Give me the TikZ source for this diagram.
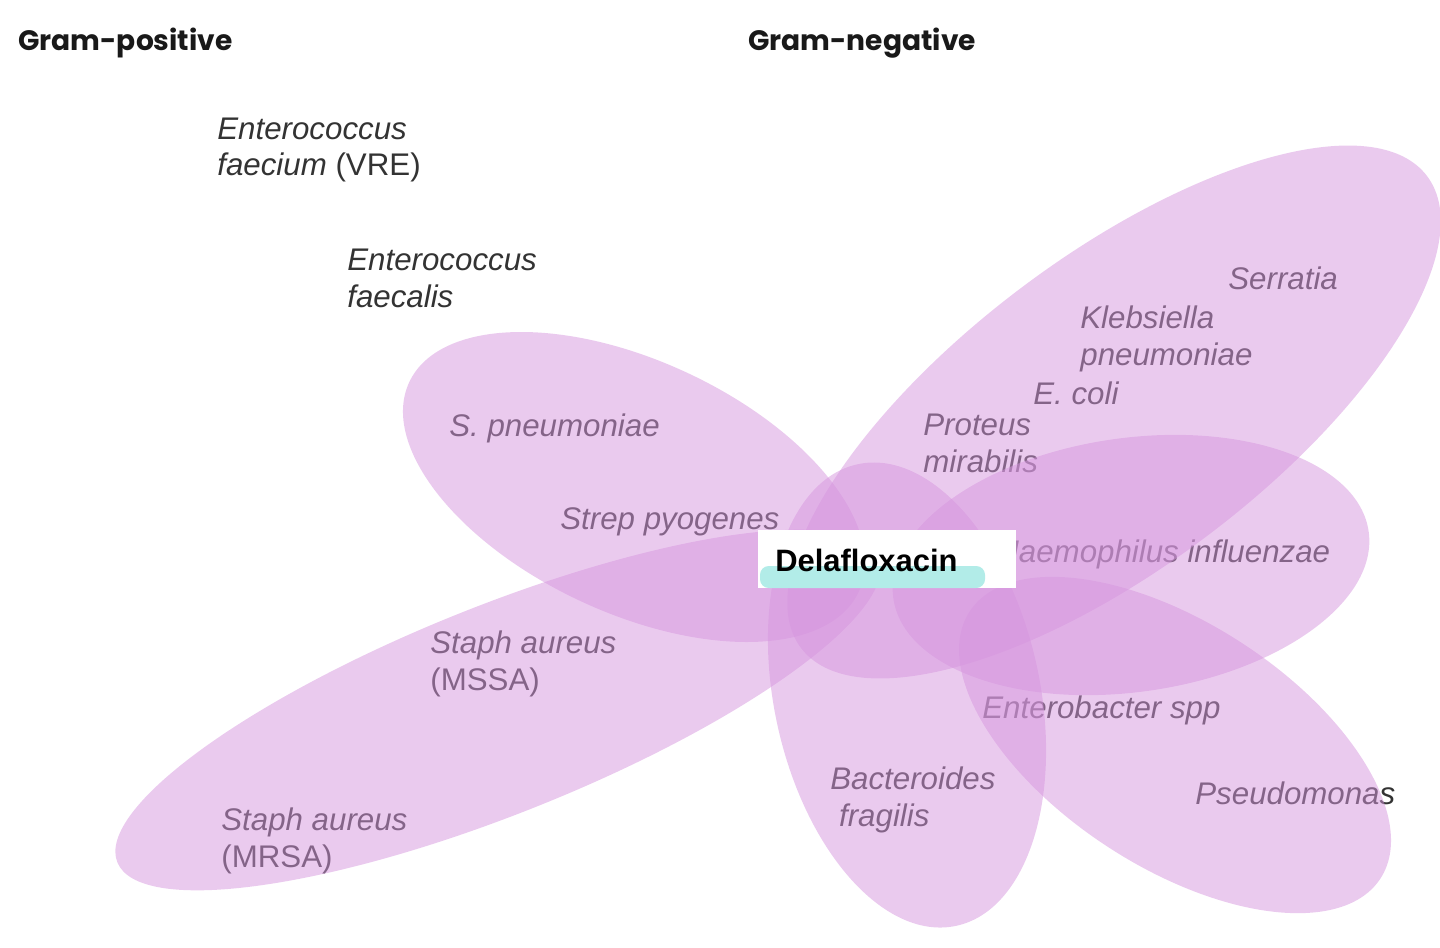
\documentclass[tikz,border=0pt]{standalone}
\usepackage{fontspec}
\setmainfont{Liberation Sans}
\newfontfamily\headfont{Poppins}
\usepackage{tikz}
\definecolor{Lilas}{RGB}{214,150,222}
\definecolor{Lagon}{RGB}{178,236,232}
\tikzset{
  germ/.style={anchor=west, align=left, inner sep=0pt, text=black!80,
    font=\fontsize{17.8}{21}\selectfont\itshape},
  head/.style={anchor=west, inner sep=0pt, text=black!90,
    font=\headfont\bfseries\fontsize{16}{19}\selectfont},
}

\begin{document}
\begin{tikzpicture}[x=0.02cm,y=-0.02cm]
  \def\couleur{Lilas}
  \useasboundingbox (0,0) rectangle (1440,947);
  \clip (0,0) rectangle (1440,947);
  % headings
  \node[head] (pos) at (18,43) {Gram-positive};
  \node[head] (neg) at (748,43) {Gram-negative};
  % organisms
  \node[germ] (vre) at (217,150) {Enterococcus\\faecium \upshape(VRE)};
  \node[germ] (faecalis) at (347,278) {Enterococcus\\faecalis};
  \node[germ] (spneu) at (449,428) {S. pneumoniae};
  \node[germ] (strep) at (560,522) {Strep pyogenes};
  \node[germ] (mssa) at (430,664) {Staph aureus\\\upshape(MSSA)};
  \node[germ] (mrsa) at (221,841) {Staph aureus\\\upshape(MRSA)};
  \node[germ] (serratia) at (1228,278) {Serratia};
  \node[germ] (kpneu) at (1080,339) {Klebsiella\\pneumoniae};
  \node[germ] (ecoli) at (1033,393) {E. coli};
  \node[germ] (proteus) at (923,443) {Proteus\\mirabilis};
  \node[germ] (hflu) at (996,554) {Haemophilus influenzae};
  \node[germ] (entero) at (982,710) {Enterobacter spp};
  \node[germ] (bfrag) at (830,800) {Bacteroides\\\hspace*{0.28em}fragilis};
  \node[germ] (pseudo) at (1195,793) {Pseudomonas};
  % petals
  \foreach \cx/\cy/\a/\b/\ang in {634/487/248/126/-25,
                                 498/710/410/104/21.8,
                                 907/695/236/133/-78,
                                 1131/565/240/127/8,
                                 1175/745/245/122/-33,
                                 1114/412/392/155/37}{%
    \fill[\couleur, fill opacity=0.5, rotate around={\ang:(\cx,\cy)}]
      (\cx,\cy) ellipse [x radius=\a, y radius=\b];
  }
  % drug label
  \fill[white] (758,530) rectangle (1016,588);
  \fill[Lagon, rounded corners=5pt] (760,566) rectangle (985,588);
  \node[anchor=west, inner sep=0pt, font=\bfseries\fontsize{17.6}{20}\selectfont]
    (drug) at (775,560) {Delafloxacin};
\end{tikzpicture}
\end{document}
